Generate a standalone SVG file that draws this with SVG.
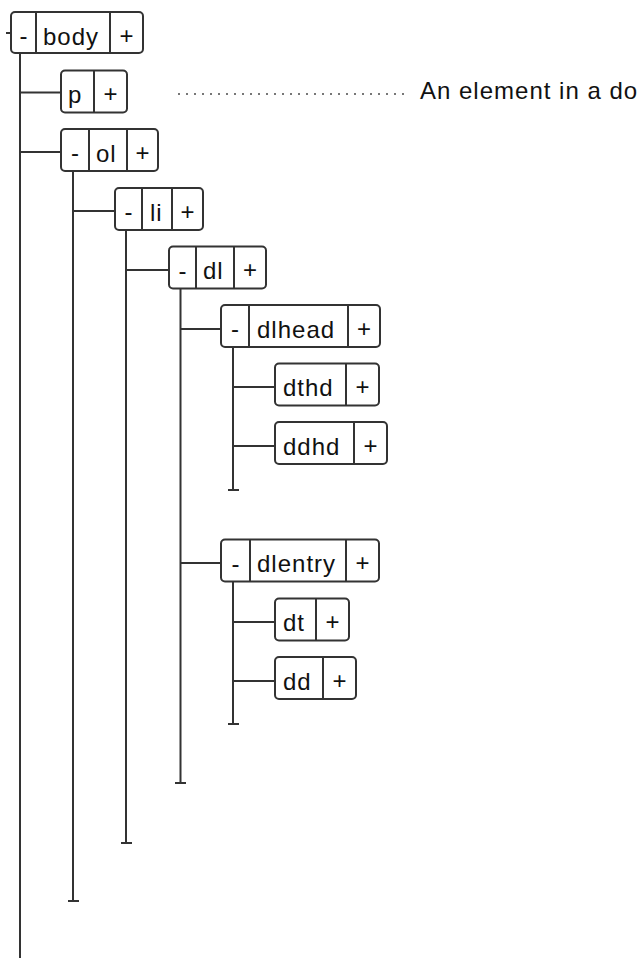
<svg xmlns="http://www.w3.org/2000/svg" width="639" height="958" viewBox="0 0 639 958">
<style>
.box{fill:#fff;stroke:#333;stroke-width:2}
.dv{stroke:#333;stroke-width:2}
.ln{stroke:#333;stroke-width:2;fill:none}
.t{font-family:"Liberation Sans",Arial,sans-serif;font-size:24px;letter-spacing:1px;fill:#111}
.c{font-family:"Liberation Sans",Arial,sans-serif;font-size:24px;fill:#111;text-anchor:middle}
.dot{stroke:#777;stroke-width:2;stroke-dasharray:2 6;fill:none}
</style>
<rect width="639" height="958" fill="#fff"/>
<g id="connectors">
<path class="ln" d="M6 33H11"/>
<path class="ln" d="M20 53V958"/>
<path class="ln" d="M20 92.5H61"/>
<path class="ln" d="M20 152H61"/>
<path class="ln" d="M73 171V901M68 901H79"/>
<path class="ln" d="M73 211H115"/>
<path class="ln" d="M126 230V843M121 843H132"/>
<path class="ln" d="M126 270H169"/>
<path class="ln" d="M180.5 288.5V783M175 783H186"/>
<path class="ln" d="M180.5 329H221"/>
<path class="ln" d="M233 347V490M228 490H239"/>
<path class="ln" d="M233 387H275"/>
<path class="ln" d="M233 446H275"/>
<path class="ln" d="M180.5 563H221"/>
<path class="ln" d="M233 581.5V724M228 724H239"/>
<path class="ln" d="M233 622H275"/>
<path class="ln" d="M233 681H275"/>
<path class="dot" d="M178 94H406"/>
</g>
<g id="body">
<rect class="box" x="11" y="12" width="132" height="41" rx="4"/>
<path class="dv" d="M36 12V53M110 12V53"/>
<text class="c" x="23.5" y="44">-</text>
<text class="t" x="43" y="45">body</text>
<text class="c" x="126.5" y="44">+</text>
</g>
<g id="p">
<rect class="box" x="61" y="70.5" width="66" height="42" rx="4"/>
<path class="dv" d="M94 70.5V112.5"/>
<text class="t" x="68" y="103">p</text>
<text class="c" x="110.5" y="102">+</text>
</g>
<g id="description">
<text class="t" x="420" y="99">An element in a do</text>
</g>
<g id="ol">
<rect class="box" x="61" y="129" width="97" height="42" rx="4"/>
<path class="dv" d="M89 129V171M127 129V171"/>
<text class="c" x="75" y="161">-</text>
<text class="t" x="96" y="161.5">ol</text>
<text class="c" x="142.5" y="160.5">+</text>
</g>
<g id="li">
<rect class="box" x="115" y="188" width="88" height="42" rx="4"/>
<path class="dv" d="M142 188V230M172 188V230"/>
<text class="c" x="128.5" y="220">-</text>
<text class="t" x="150" y="220.5">li</text>
<text class="c" x="187.5" y="219.5">+</text>
</g>
<g id="dl">
<rect class="box" x="169" y="246.5" width="97" height="42" rx="4"/>
<path class="dv" d="M196 246.5V288.5M234 246.5V288.5"/>
<text class="c" x="182.5" y="278.5">-</text>
<text class="t" x="203" y="279">dl</text>
<text class="c" x="250" y="278">+</text>
</g>
<g id="dlhead">
<rect class="box" x="221" y="305" width="159" height="42" rx="4"/>
<path class="dv" d="M249 305V347M348 305V347"/>
<text class="c" x="235" y="337">-</text>
<text class="t" x="257" y="337.5">dlhead</text>
<text class="c" x="364" y="336.5">+</text>
</g>
<g id="dthd">
<rect class="box" x="275" y="363.5" width="104" height="42" rx="4"/>
<path class="dv" d="M346 363.5V405.5"/>
<text class="t" x="283" y="396">dthd</text>
<text class="c" x="362.5" y="395">+</text>
</g>
<g id="ddhd">
<rect class="box" x="275" y="422" width="112" height="42" rx="4"/>
<path class="dv" d="M354 422V464"/>
<text class="t" x="283" y="454.5">ddhd</text>
<text class="c" x="370.5" y="453.5">+</text>
</g>
<g id="dlentry">
<rect class="box" x="221" y="539.5" width="158" height="42" rx="4"/>
<path class="dv" d="M250 539.5V581.5M346 539.5V581.5"/>
<text class="c" x="235.5" y="571.5">-</text>
<text class="t" x="257" y="572">dlentry</text>
<text class="c" x="362.5" y="571">+</text>
</g>
<g id="dt">
<rect class="box" x="275" y="598.5" width="74" height="42" rx="4"/>
<path class="dv" d="M316 598.5V640.5"/>
<text class="t" x="283" y="631">dt</text>
<text class="c" x="332.5" y="630">+</text>
</g>
<g id="dd">
<rect class="box" x="275" y="657" width="81" height="42" rx="4"/>
<path class="dv" d="M323 657V699"/>
<text class="t" x="283" y="689.5">dd</text>
<text class="c" x="339.5" y="688.5">+</text>
</g>
</svg>
